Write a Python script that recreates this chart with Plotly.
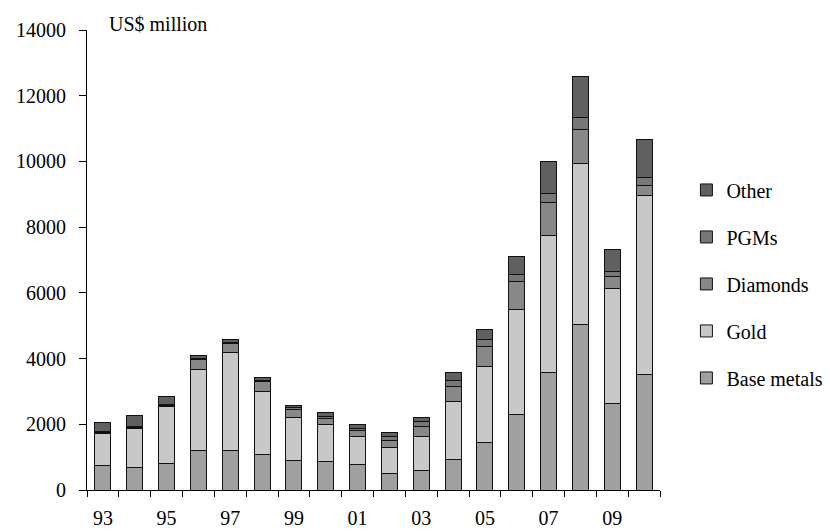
import plotly.graph_objects as go

years = ["93", "94", "95", "96", "97", "98", "99", "00", "01", "02",
         "03", "04", "05", "06", "07", "08", "09", "10"]
tick_labels = ["93", "", "95", "", "97", "", "99", "", "01", "",
               "03", "", "05", "", "07", "", "09", ""]

base_metals = [740, 670, 810, 1215, 1215, 1085, 890, 880, 780, 510,
               580, 930, 1440, 2310, 3565, 5045, 2635, 3525]
gold = [980, 1215, 1745, 2465, 2975, 1905, 1320, 1100, 840, 790,
        1040, 1765, 2310, 3180, 4195, 4900, 3500, 5450]
diamonds = [40, 25, 20, 305, 275, 300, 255, 200, 205, 220,
            325, 465, 625, 850, 990, 1015, 375, 305]
pgms = [20, 15, 15, 30, 30, 40, 40, 60, 60, 100,
        130, 175, 195, 225, 285, 375, 125, 225]
other = [270, 335, 250, 85, 75, 95, 70, 110, 115, 125,
         125, 230, 325, 555, 955, 1265, 690, 1170]

series = [
    ("Base metals", base_metals, "#A0A0A0", 5),
    ("Gold", gold, "#C8C8C8", 4),
    ("Diamonds", diamonds, "#888888", 3),
    ("PGMs", pgms, "#777777", 2),
    ("Other", other, "#606060", 1),
]

font_family = "Liberation Serif, Times New Roman, Times, serif"

fig = go.Figure()
for name, vals, color, rank in series:
    fig.add_trace(go.Bar(
        x=years, y=vals, name=name, legendgroup=name, legendrank=rank,
        marker=dict(color=color, line=dict(color="#111111", width=1)),
    ))

fig.update_layout(
    barmode="stack",
    bargap=0.5,
    width=830, height=531,
    margin=dict(l=87, r=170, t=30, b=41, autoexpand=False),
    plot_bgcolor="white", paper_bgcolor="white",
    font=dict(family=font_family, size=20, color="black"),
    showlegend=True,
    legend=dict(
        traceorder="grouped",
        tracegroupgap=18,
        itemwidth=30,
        xref="container", yref="container",
        x=0.827, xanchor="left",
        y=0.679, yanchor="top",
        font=dict(family=font_family, size=20, color="black"),
        bgcolor="rgba(0,0,0,0)",
    ),
    xaxis=dict(
        type="category",
        tickmode="array", tickvals=years, ticktext=tick_labels,
        tickson="boundaries",
        ticks="outside", ticklen=6, tickcolor="black", tickwidth=1,
        showline=True, linecolor="black", linewidth=1,
        showgrid=False, zeroline=False,
        ticklabelstandoff=10,
        automargin=False,
        tickfont=dict(family=font_family, size=20, color="black"),
    ),
    yaxis=dict(
        range=[0, 14000],
        tickmode="linear", tick0=0, dtick=2000, tickformat="d",
        ticks="outside", ticklen=7, tickcolor="black", tickwidth=1,
        showline=True, linecolor="black", linewidth=1,
        showgrid=False, zeroline=False,
        ticklabelstandoff=9,
        automargin=False,
        tickfont=dict(family=font_family, size=20, color="black"),
    ),
    annotations=[dict(
        text="US$ million", xref="paper", yref="paper",
        x=0.035, y=1.0, xanchor="left", yanchor="middle", yshift=6,
        showarrow=False,
        font=dict(family=font_family, size=20, color="black"),
    )],
)

fig.write_html("out.html")
